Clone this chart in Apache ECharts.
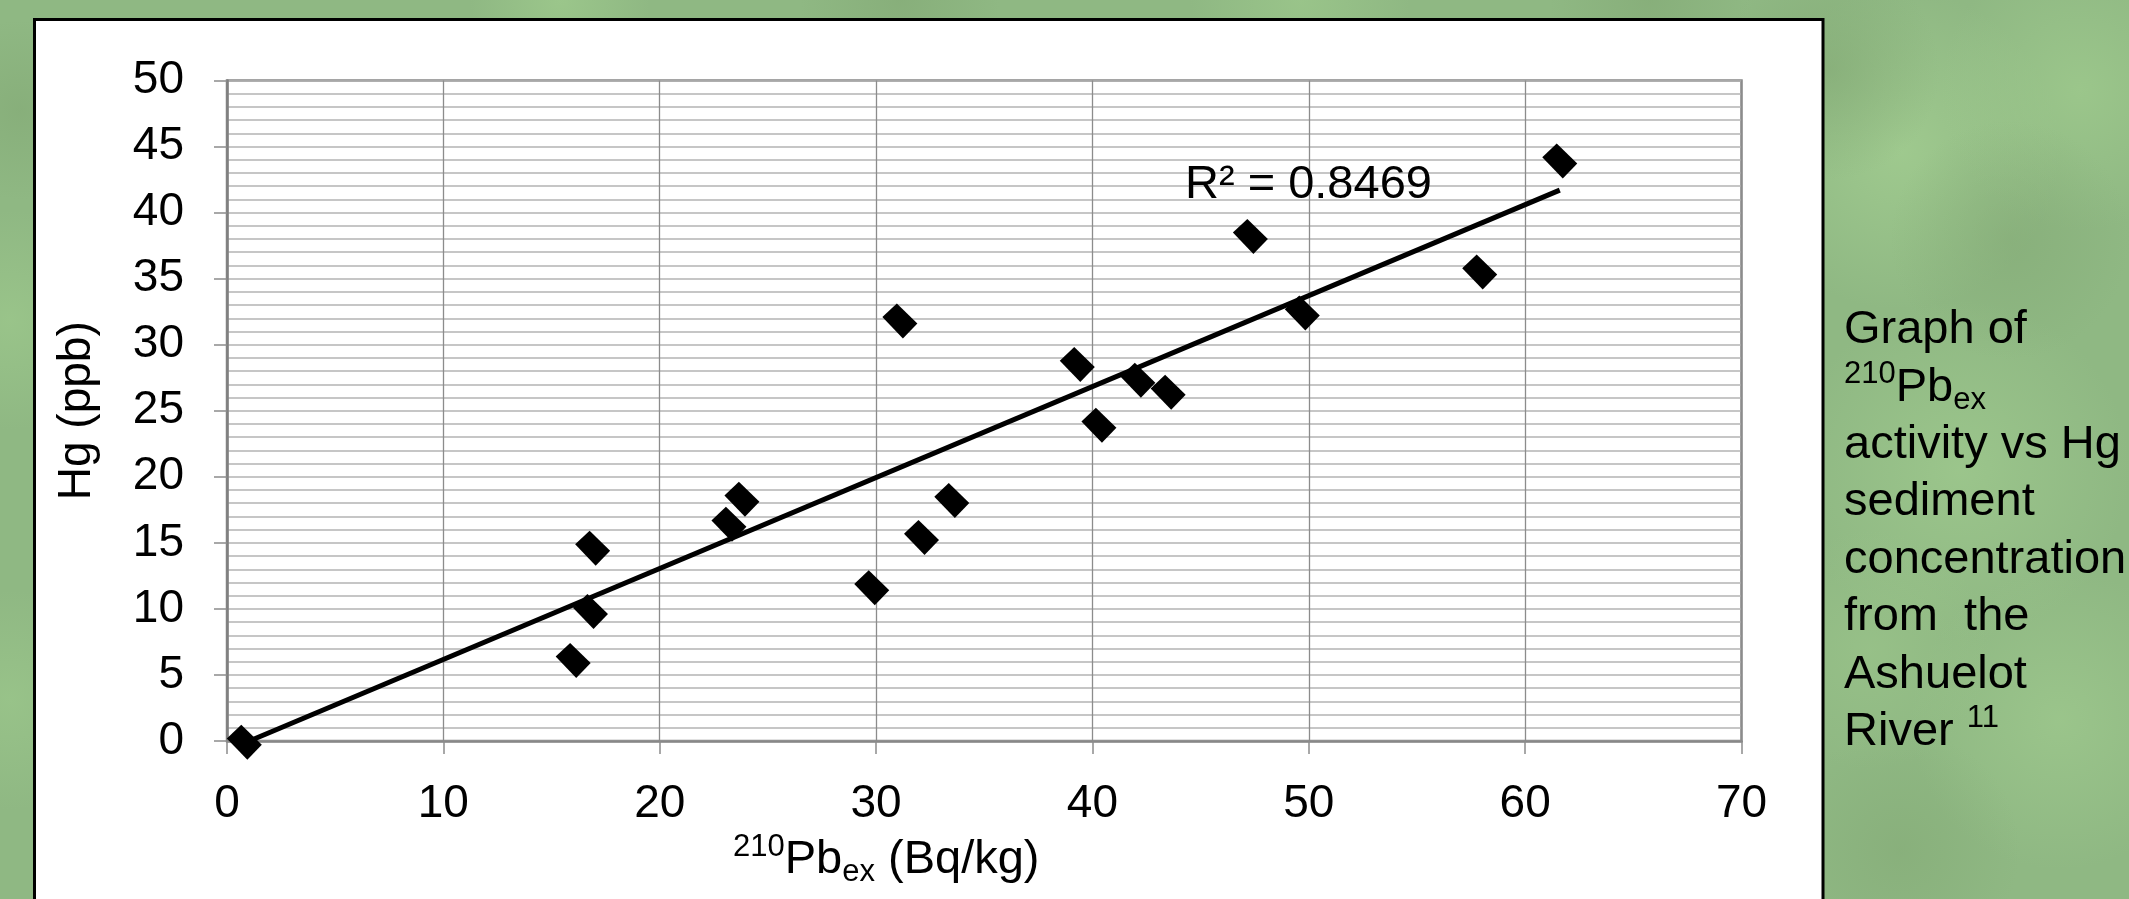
<!DOCTYPE html>
<html>
<head>
<meta charset="utf-8">
<script src="https://cdn.jsdelivr.net/npm/echarts@6/dist/echarts.min.js"></script>
<style>
html, body { margin: 0; padding: 0; background: #8fb883; }
#chart { width: 2129px; height: 899px; }
</style>
</head>
<body>
<div id="chart"></div>
<script>
// 210Pb excess activity (Bq/kg) vs Hg (ppb)
const pbEx = [0.8, 16.0, 16.8, 16.9, 23.2, 23.8, 29.8, 31.1, 32.1, 33.5, 39.3, 40.3, 42.1, 43.5, 47.3, 49.7, 57.9, 61.6];
const hg = [-0.1, 6.1, 9.8, 14.6, 16.4, 18.3, 11.6, 31.8, 15.4, 18.2, 28.5, 23.9, 27.3, 26.4, 38.2, 32.4, 35.5, 43.9];

// linear trendline ends
const trendX = [0.76, 61.6];
const trendY = [-0.19, 41.7];
const rSquared = 'R² = 0.8469';

const captionLines = [
  'Graph of',
  '{sup|210}Pb{sub|ex}',
  'activity vs Hg',
  'sediment',
  'concentration',
  'from  the',
  'Ashuelot',
  'River {sup|11}',
];

const font = '"Liberation Sans", Arial, sans-serif';

const points = pbEx.map((x, i) => [x, hg[i]]);
const trend = trendX.map((x, i) => [x, trendY[i]]);

// mottled green backdrop
const blobs = [
  [1900, 150, 160, 'rgba(164,207,146,0.75)'],
  [2080, 90, 140, 'rgba(160,204,142,0.7)'],
  [1960, 470, 170, 'rgba(163,206,145,0.6)'],
  [2060, 720, 150, 'rgba(162,205,144,0.6)'],
  [1870, 650, 120, 'rgba(158,200,140,0.5)'],
  [560, 0, 90, 'rgba(160,204,142,0.7)'],
  [1300, 0, 110, 'rgba(160,204,142,0.6)'],
  [10, 320, 110, 'rgba(160,204,142,0.6)'],
  [10, 700, 110, 'rgba(158,202,141,0.6)'],
  [1830, 70, 110, 'rgba(128,166,114,0.55)'],
  [2010, 240, 120, 'rgba(130,168,116,0.5)'],
  [1900, 850, 120, 'rgba(130,168,116,0.5)'],
  [20, 110, 90, 'rgba(128,166,114,0.5)'],
  [900, 0, 100, 'rgba(128,166,114,0.5)'],
  [1650, 0, 100, 'rgba(128,166,114,0.5)'],
];

const chart = echarts.init(document.getElementById('chart'), null, { renderer: 'canvas' });

const bgGraphics = blobs.map((b) => ({
  type: 'circle',
  z: -20,
  silent: true,
  shape: { cx: b[0], cy: b[1], r: b[2] },
  style: {
    fill: new echarts.graphic.RadialGradient(0.5, 0.5, 0.5, [
      { offset: 0, color: b[3] },
      { offset: 1, color: b[3].replace(/[\d.]+\)$/, '0)') },
    ]),
  },
}));

chart.setOption({
  backgroundColor: '#8fb883',
  animation: false,
  textStyle: { fontFamily: font },
  graphic: [
    ...bgGraphics,
    {
      type: 'rect',
      z: -10,
      silent: true,
      shape: { x: 34.5, y: 19.5, width: 1788.5, height: 920 },
      style: { fill: '#ffffff', stroke: '#000000', lineWidth: 3 },
    },
    {
      type: 'text',
      z: 10,
      x: 1185,
      y: 185,
      style: {
        text: rSquared,
        fontFamily: font,
        fontSize: 47,
        fill: '#000000',
        verticalAlign: 'middle',
      },
    },
    {
      type: 'text',
      z: 10,
      x: 1844,
      y: 301.5,
      style: {
        text: captionLines.join('\n'),
        fontFamily: font,
        fontSize: 47,
        lineHeight: 57.4,
        fill: '#000000',
        verticalAlign: 'top',
        rich: {
          sup: { fontFamily: font, fontSize: 31, lineHeight: 36.6, verticalAlign: 'top', fill: '#000000' },
          sub: { fontFamily: font, fontSize: 31, lineHeight: 21.6, verticalAlign: 'bottom', fill: '#000000' },
        },
      },
    },
  ],
  grid: {
    left: 227,
    top: 80.5,
    width: 1514.5,
    height: 660.5,
    show: true,
    backgroundColor: 'transparent',
    borderColor: '#888888',
    borderWidth: 2.5,
  },
  xAxis: {
    type: 'value',
    min: 0,
    max: 70,
    interval: 10,
    name: '{sup|210}Pb{sub|ex} (Bq/kg)',
    nameLocation: 'middle',
    nameGap: 77,
    nameTextStyle: {
      fontFamily: font,
      fontSize: 47,
      lineHeight: 56,
      color: '#000000',
      padding: [0, 196, 0, 0],
      rich: {
        sup: { fontFamily: font, fontSize: 31, lineHeight: 41.2, verticalAlign: 'top', color: '#000000' },
        sub: { fontFamily: font, fontSize: 31, lineHeight: 20.8, verticalAlign: 'bottom', color: '#000000' },
      },
    },
    axisLine: { show: true, lineStyle: { color: '#888888', width: 2.5 } },
    axisTick: { show: true, length: 13, lineStyle: { color: '#8c8c8c', width: 1.5 } },
    axisLabel: { fontFamily: font, fontSize: 46, color: '#000000', margin: 40 },
    splitLine: { show: true, lineStyle: { color: '#8c8c8c', width: 1.3 } },
  },
  yAxis: {
    type: 'value',
    min: 0,
    max: 50,
    interval: 5,
    name: 'Hg (ppb)',
    nameLocation: 'middle',
    nameRotate: 90,
    nameGap: 127,
    nameTextStyle: { fontFamily: font, fontSize: 46, color: '#000000' },
    axisLine: { show: true, lineStyle: { color: '#808080', width: 2.5 } },
    axisTick: { show: true, length: 13, lineStyle: { color: '#8c8c8c', width: 1.5 } },
    axisLabel: { fontFamily: font, fontSize: 46, color: '#000000', margin: 43 },
    splitLine: { show: true, lineStyle: { color: '#b3b3b3', width: 1.6 } },
    minorTick: { show: false, splitNumber: 5 },
    minorSplitLine: { show: true, lineStyle: { color: '#b3b3b3', width: 1.6 } },
  },
  series: [
    {
      name: 'Trend',
      type: 'line',
      data: trend,
      clip: false,
      symbol: 'none',
      z: 3,
      lineStyle: { color: '#000000', width: 5 },
    },
    {
      name: 'Hg',
      type: 'scatter',
      data: points,
      clip: false,
      z: 4,
      symbol: 'path://M43 0 L104 60 L61 105 L0 41 Z',
      symbolSize: [35, 35],
      itemStyle: { color: '#000000', opacity: 1 },
    },
  ],
});
</script>
</body>
</html>
